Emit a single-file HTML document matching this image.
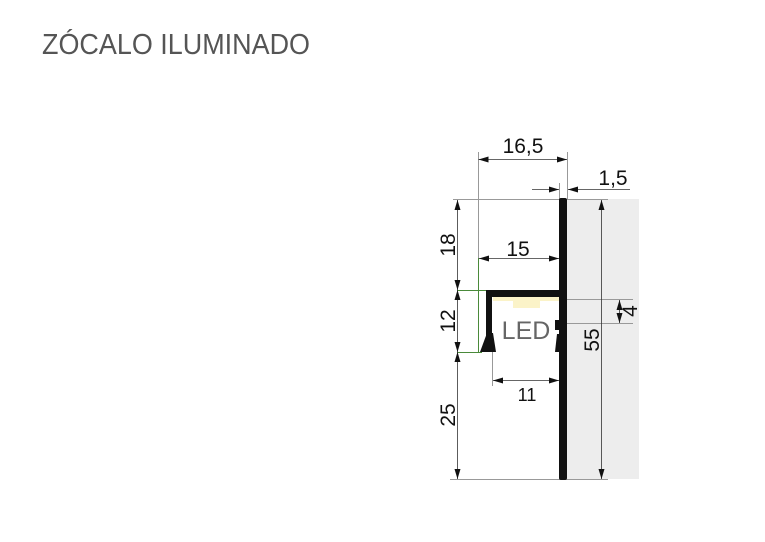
<!DOCTYPE html>
<html><head><meta charset="utf-8"><style>
html,body{margin:0;padding:0;background:#fff}
svg{display:block}
text{font-family:"Liberation Sans",sans-serif}
</style></head><body>
<svg width="765" height="542" viewBox="0 0 765 542" xmlns="http://www.w3.org/2000/svg">
<defs>
<marker id="a" viewBox="0 0 10 6" refX="10" refY="3" markerWidth="10" markerHeight="6" orient="auto-start-reverse" markerUnits="userSpaceOnUse"><path d="M0,0L10,3L0,6z" fill="#111"/></marker>
</defs>
<text x="42" y="54" font-size="29" fill="#555" textLength="268" lengthAdjust="spacingAndGlyphs">ZÓCALO ILUMINADO</text>
<rect x="567" y="199" width="72" height="280" fill="#ededed"/>
<g stroke="#999" stroke-width="1" fill="none">
<line x1="453" y1="199.5" x2="608" y2="199.5"/>
<line x1="450" y1="479.5" x2="608" y2="479.5"/>
<line x1="478.5" y1="152" x2="478.5" y2="258"/>
<line x1="567.5" y1="152" x2="567.5" y2="199"/>
<line x1="559.5" y1="183" x2="559.5" y2="199"/>
<line x1="561" y1="299.5" x2="633" y2="299.5"/>
<line x1="561" y1="323.5" x2="633" y2="323.5"/>
<line x1="492.5" y1="352" x2="492.5" y2="386"/>
</g>
<g stroke="#4a8a3a" stroke-width="1">
<line x1="478.5" y1="258" x2="478.5" y2="352"/>
<line x1="457" y1="290.5" x2="488" y2="290.5"/>
<line x1="457" y1="352.5" x2="482" y2="352.5"/>
</g>
<g stroke="#333" stroke-width="0.8" fill="none">
<line x1="478.5" y1="159.5" x2="567" y2="159.5" marker-start="url(#a)" marker-end="url(#a)"/>
<line x1="532" y1="189.5" x2="559" y2="189.5" marker-end="url(#a)"/>
<line x1="630" y1="189.5" x2="568" y2="189.5" marker-end="url(#a)"/>
<line x1="457.5" y1="200" x2="457.5" y2="290" marker-start="url(#a)" marker-end="url(#a)"/>
<line x1="457.5" y1="290" x2="457.5" y2="352" marker-start="url(#a)" marker-end="url(#a)"/>
<line x1="457.5" y1="352" x2="457.5" y2="479" marker-start="url(#a)" marker-end="url(#a)"/>
<line x1="479" y1="258.5" x2="559" y2="258.5" marker-start="url(#a)" marker-end="url(#a)"/>
<line x1="601.5" y1="200" x2="601.5" y2="479" marker-start="url(#a)" marker-end="url(#a)"/>
<line x1="619.5" y1="300" x2="619.5" y2="323" marker-start="url(#a)" marker-end="url(#a)"/>
<line x1="493" y1="380.5" x2="559" y2="380.5" marker-start="url(#a)" marker-end="url(#a)"/>
</g>
<rect x="559" y="198" width="8" height="282" rx="2" fill="#111"/>
<rect x="488" y="290" width="72" height="7" fill="#111"/>
<rect x="486" y="290" width="6" height="50" fill="#111"/>
<path d="M480,352 L487,333 L493,333 L496,352 Z" fill="#111"/>
<path d="M555,352 L557,334 L560,334 L560,352 Z" fill="#111"/>
<rect x="555" y="320" width="5" height="10" fill="#111"/>
<rect x="493" y="297" width="66" height="4" fill="#fbf3c8"/>
<rect x="513" y="300" width="27" height="8" fill="#fbf3c8"/>
<text x="526" y="339" font-size="25" fill="#666" text-anchor="middle">LED</text>
<g font-size="21" fill="#111">
<text x="523" y="153" text-anchor="middle">16,5</text>
<text x="613" y="185" text-anchor="middle">1,5</text>
<text x="518" y="256" text-anchor="middle">15</text>
<text x="527" y="401" text-anchor="middle" font-size="18">11</text>
<text transform="translate(455,245) rotate(-90)" text-anchor="middle">18</text>
<text transform="translate(455,321) rotate(-90)" text-anchor="middle">12</text>
<text transform="translate(455,415) rotate(-90)" text-anchor="middle">25</text>
<text transform="translate(599,340) rotate(-90)" text-anchor="middle">55</text>
<text transform="translate(637,311) rotate(-90)" text-anchor="middle">4</text>
</g>
</svg>
</body></html>
